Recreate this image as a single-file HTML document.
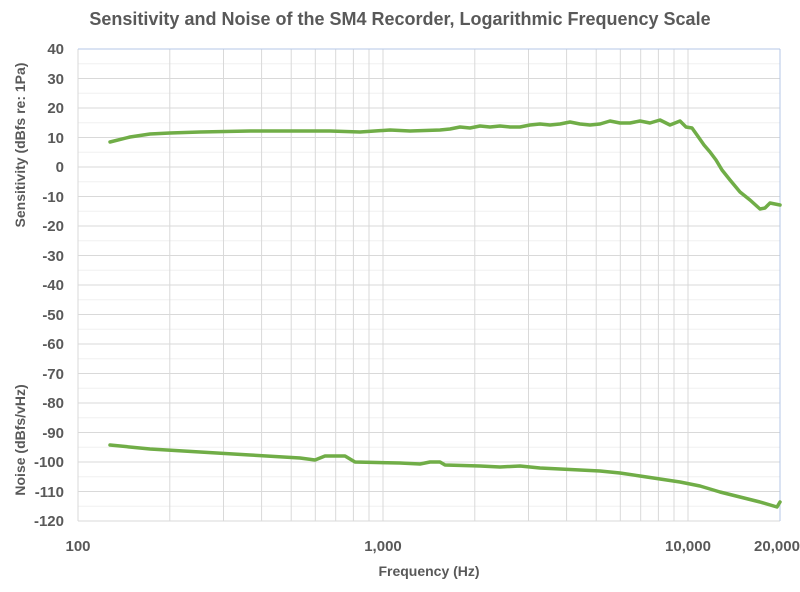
<!DOCTYPE html>
<html><head><meta charset="utf-8"><style>
body{margin:0;background:#fff;}
text{font-family:"Liberation Sans",sans-serif;font-weight:bold;fill:#595959;}
</style></head><body>
<svg width="800" height="587" xmlns="http://www.w3.org/2000/svg">
<text x="400" y="25" font-size="18" text-anchor="middle">Sensitivity and Noise of the SM4 Recorder, Logarithmic Frequency Scale</text>
<g stroke="#f0f0f0" stroke-width="1">
<line x1="78" x2="780" y1="63.75" y2="63.75"/><line x1="78" x2="780" y1="93.25" y2="93.25"/><line x1="78" x2="780" y1="122.75" y2="122.75"/><line x1="78" x2="780" y1="152.25" y2="152.25"/><line x1="78" x2="780" y1="181.75" y2="181.75"/><line x1="78" x2="780" y1="211.25" y2="211.25"/><line x1="78" x2="780" y1="240.75" y2="240.75"/><line x1="78" x2="780" y1="270.25" y2="270.25"/><line x1="78" x2="780" y1="299.75" y2="299.75"/><line x1="78" x2="780" y1="329.25" y2="329.25"/><line x1="78" x2="780" y1="358.75" y2="358.75"/><line x1="78" x2="780" y1="388.25" y2="388.25"/><line x1="78" x2="780" y1="417.75" y2="417.75"/><line x1="78" x2="780" y1="447.25" y2="447.25"/><line x1="78" x2="780" y1="476.75" y2="476.75"/><line x1="78" x2="780" y1="506.25" y2="506.25"/>
</g>
<g stroke="#d9d9d9" stroke-width="1">
<line x1="78" x2="780" y1="78.5" y2="78.5"/><line x1="78" x2="780" y1="108" y2="108"/><line x1="78" x2="780" y1="137.5" y2="137.5"/><line x1="78" x2="780" y1="167" y2="167"/><line x1="78" x2="780" y1="196.5" y2="196.5"/><line x1="78" x2="780" y1="226" y2="226"/><line x1="78" x2="780" y1="255.5" y2="255.5"/><line x1="78" x2="780" y1="285" y2="285"/><line x1="78" x2="780" y1="314.5" y2="314.5"/><line x1="78" x2="780" y1="344" y2="344"/><line x1="78" x2="780" y1="373.5" y2="373.5"/><line x1="78" x2="780" y1="403" y2="403"/><line x1="78" x2="780" y1="432.5" y2="432.5"/><line x1="78" x2="780" y1="462" y2="462"/><line x1="78" x2="780" y1="491.5" y2="491.5"/>
<line x1="169.8" x2="169.8" y1="49" y2="521"/><line x1="223.5" x2="223.5" y1="49" y2="521"/><line x1="261.6" x2="261.6" y1="49" y2="521"/><line x1="291.2" x2="291.2" y1="49" y2="521"/><line x1="315.3" x2="315.3" y1="49" y2="521"/><line x1="335.7" x2="335.7" y1="49" y2="521"/><line x1="353.4" x2="353.4" y1="49" y2="521"/><line x1="369" x2="369" y1="49" y2="521"/><line x1="383" x2="383" y1="49" y2="521"/>
<line x1="474.8" x2="474.8" y1="49" y2="521"/><line x1="528.5" x2="528.5" y1="49" y2="521"/><line x1="566.6" x2="566.6" y1="49" y2="521"/><line x1="596.2" x2="596.2" y1="49" y2="521"/><line x1="620.3" x2="620.3" y1="49" y2="521"/><line x1="640.7" x2="640.7" y1="49" y2="521"/><line x1="658.4" x2="658.4" y1="49" y2="521"/><line x1="674" x2="674" y1="49" y2="521"/><line x1="688" x2="688" y1="49" y2="521"/>
<line x1="78" x2="78" y1="49" y2="521"/><line x1="78" x2="780" y1="521" y2="521"/>
</g>
<line x1="78" x2="780" y1="49" y2="49" stroke="#b4c7e7" stroke-width="1"/>
<line x1="780" x2="780" y1="49" y2="521" stroke="#b4c7e7" stroke-width="1"/>
<g font-size="15" text-anchor="end">
<text x="64" y="54">40</text><text x="64" y="84">30</text><text x="64" y="113">20</text><text x="64" y="143">10</text><text x="64" y="172">0</text><text x="64" y="202">-10</text><text x="64" y="231">-20</text><text x="64" y="261">-30</text><text x="64" y="290">-40</text><text x="64" y="320">-50</text><text x="64" y="349">-60</text><text x="64" y="379">-70</text><text x="64" y="408">-80</text><text x="64" y="438">-90</text><text x="64" y="467">-100</text><text x="64" y="497">-110</text><text x="64" y="526">-120</text>
</g>
<g font-size="15" text-anchor="middle">
<text x="78" y="551">100</text><text x="383" y="551">1,000</text><text x="688" y="551">10,000</text><text x="777" y="551">20,000</text>
</g>
<text x="429" y="576" font-size="14" text-anchor="middle">Frequency (Hz)</text>
<text transform="translate(25,145) rotate(-90)" font-size="14" text-anchor="middle">Sensitivity (dBfs re: 1Pa)</text>
<text transform="translate(25,440) rotate(-90)" font-size="14" text-anchor="middle">Noise (dBfs/vHz)</text>
<g fill="none" stroke="#70ad47" stroke-width="3.5" stroke-linejoin="round" stroke-linecap="round">
<polyline points="110,142 130,137 150,134 170,133 200,132 250,131 300,131 330,131 360,132 390,130 410,131 440,130 450,129 460,127 470,128 480,126 490,127 500,126 510,127 520,127 530,125 540,124 550,125 560,124 570,122 580,124 590,125 600,124 610,121 620,123 630,123 640,121 650,123 660,120 670,125 680,121 686,127 692,128 697,135 704,145 710,152 716,160 722,170 730,180 740,192 750,200 760,209 765,208 770,203 780,205"/>
<polyline points="110,445 150,449 200,452 250,455 300,458 315,460 325,456 345,456 355,462 400,463 420,464 430,462 440,462 445,465 480,466 500,467 520,466 540,468 560,469 600,471 620,473 640,476 660,479 680,482 700,486 720,492 740,497 760,502 777,507 780,502"/>
</g>
</svg>
</body></html>
